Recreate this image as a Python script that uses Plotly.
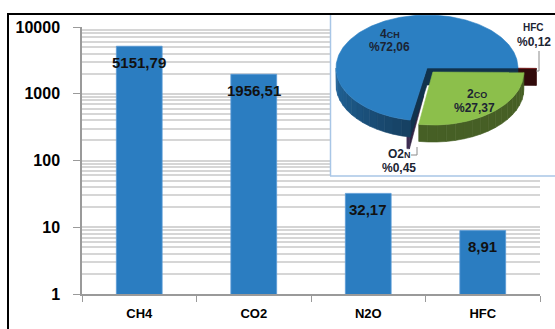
import math
import plotly.graph_objects as go

# ---- data -------------------------------------------------------------
gases = ["CH4", "CO2", "N2O", "HFC"]
emissions = [5151.79, 1956.51, 32.17, 8.91]
y_tick_vals = [1, 10, 100, 1000, 10000]
y_tick_text = ["1", "10", "100", "1000", "10000"]

# inset pie: slices counter-clockwise from the east edge
pie_sequence = ["CH4", "N2O", "CO2", "HFC"]
pie_pull = {"CH4": 0.0, "N2O": 0.22, "CO2": 0.10, "HFC": 0.20}
pie_colors = {"CH4": "#2b7fc2", "N2O": "#7d5ca8", "CO2": "#8cbf4b", "HFC": "#7b1c1c"}
pie_names = {
    "CH4": "4<span style='font-size:9px'>CH</span>",
    "CO2": "2<span style='font-size:9px'>CO</span>",
    "N2O": "O2<span style='font-size:9px'>N</span>",
    "HFC": "<span style='font-size:10px'>HFC</span>",
}
# back-to-front paint order of the 3-D slices
paint_order = ["N2O", "HFC", "CH4", "CO2"]

BAR_COLOR = "#2b7dc1"
W, H = 555, 329


def px(x):
    return x / W


def py(y):
    return 1 - y / H


def fmt(v):
    return f"{v:.2f}".replace(".", ",")


fig = go.Figure()

# ---- bar chart (log scale) -------------------------------------------
fig.add_trace(go.Bar(
    x=gases, y=emissions, width=0.4,
    marker=dict(color=BAR_COLOR, line=dict(color="#5b9bd5", width=0.8)),
    hoverinfo="skip", showlegend=False,
))

annotations = []
for g, v in zip(gases, emissions):
    annotations.append(dict(
        x=g, y=math.log10(v), xref="x", yref="y", text=fmt(v),
        showarrow=False, yshift=-16,
        font=dict(family="Liberation Sans, Arial", size=15, color="#111111", weight="bold"),
    ))

minor_vals = [m * 10 ** e for e in range(4) for m in range(2, 10)]

# ---- inset 3-D pie ----------------------------------------------------
CX, CY, RX, RY, DEPTH = 427.0, 68.0, 91.0, 53.0, 17.0
total = sum(emissions)
share = {g: v / total * 100 for g, v in zip(gases, emissions)}

angles = {}
start = 0.0
for g in pie_sequence:
    span = share[g] * 3.6
    angles[g] = (start, start + span)
    start += span


def rim(theta, ox, oy, drop=0.0):
    t = math.radians(theta)
    return (CX + ox + RX * math.cos(t), CY + oy - RY * math.sin(t) + drop)


def arc(a0, a1, ox, oy, drop=0.0):
    n = max(2, int(abs(a1 - a0)) + 2)
    return [rim(a0 + (a1 - a0) * i / (n - 1), ox, oy, drop) for i in range(n)]


def shade(hexcol, k):
    r, g, b = (int(hexcol[i:i + 2], 16) for i in (1, 3, 5))
    f = 1 - k
    return "#%02x%02x%02x" % (int(r * f), int(g * f), int(b * f))


def poly(points, color):
    xs = [p[0] for p in points] + [points[0][0]]
    ys = [p[1] for p in points] + [points[0][1]]
    return go.Scatter(
        x=xs, y=ys, xaxis="x2", yaxis="y2", mode="lines", fill="toself",
        fillcolor=color, line=dict(color=color, width=0.6),
        hoverinfo="skip", showlegend=False,
    )


for g in paint_order:
    s, e = angles[g]
    mid = math.radians((s + e) / 2)
    ox = pie_pull[g] * RX * math.cos(mid)
    oy = -pie_pull[g] * RY * math.sin(mid)
    top = pie_colors[g]
    c_top = (CX + ox, CY + oy)
    c_bot = (CX + ox, CY + oy + DEPTH)
    face_col = shade(top, 0.6)
    # radial cut faces that turn towards the viewer
    if math.cos(math.radians(s)) > 0:
        fig.add_trace(poly([c_top, rim(s, ox, oy), rim(s, ox, oy, DEPTH), c_bot], face_col))
    if math.cos(math.radians(e)) < 0:
        fig.add_trace(poly([c_top, rim(e, ox, oy), rim(e, ox, oy, DEPTH), c_bot], face_col))
    # outer front wall, shaded by angle
    lo, hi = max(s, 180.0), min(e, 360.0)
    if hi > lo:
        nseg = max(1, int(math.ceil((hi - lo) / 6)))
        for i in range(nseg):
            a = lo + (hi - lo) * i / nseg
            b = lo + (hi - lo) * (i + 1) / nseg
            k = min(0.5, 0.18 + 0.32 * ((a + b) / 2 - 180) / 80)
            pts = arc(a, b, ox, oy) + arc(a, b, ox, oy, DEPTH)[::-1]
            fig.add_trace(poly(pts, shade(top, k)))
    # top face
    fig.add_trace(poly([c_top] + arc(s, e, ox, oy), top))

label_font = dict(family="Liberation Sans, Arial", size=12, color="#1c2433", weight="bold")
pie_label_pos = {
    "CH4": ((390, 34), (389, 47.5)),
    "CO2": ((477, 94), (474, 108)),
    "HFC": ((533, 28), (534, 42)),
    "N2O": ((399, 154), (399, 168.5)),
}
for g, ((nx, ny), (vx, vy)) in pie_label_pos.items():
    annotations.append(dict(x=nx, y=ny, xref="x2", yref="y2", text=pie_names[g],
                            showarrow=False, font=label_font, borderpad=0))
    annotations.append(dict(x=vx, y=vy, xref="x2", yref="y2", text="%" + fmt(share[g]),
                            showarrow=False, font=label_font, borderpad=0))

shapes = [
    # outer frame
    dict(type="line", xref="paper", yref="paper", x0=px(8), x1=px(8), y0=py(13), y1=-0.01,
         line=dict(color="#000000", width=2)),
    dict(type="line", xref="paper", yref="paper", x0=px(7), x1=1.01, y0=py(14), y1=py(14),
         line=dict(color="#000000", width=2)),
    # inset border
    dict(type="line", xref="paper", yref="paper", x0=px(330.5), x1=px(330.5), y0=py(15), y1=py(176),
         line=dict(color="#a8c6e6", width=1.5)),
    dict(type="line", xref="paper", yref="paper", x0=px(330), x1=1.01, y0=py(176), y1=py(176),
         line=dict(color="#a8c6e6", width=1.5)),
    # leader lines
    dict(type="path", xref="x2", yref="y2", path="M 539 51 L 539 71 L 536 71",
         line=dict(color="#8a8a8a", width=1)),
    dict(type="path", xref="x2", yref="y2", path="M 417 147 L 417 155 L 411 155",
         line=dict(color="#8a8a8a", width=1)),
]

axis_font = dict(family="Liberation Sans, Arial", color="#000000", weight="bold")

fig.update_layout(
    width=W, height=H, autosize=False,
    margin=dict(l=0, r=0, t=0, b=0, pad=0),
    paper_bgcolor="#ffffff", plot_bgcolor="#ffffff",
    showlegend=False,
    xaxis=dict(
        domain=[px(82), px(540)], range=[-0.5, 3.5], type="category", automargin=False,
        tickson="boundaries", ticks="outside", ticklen=6, tickcolor="#9a9a9a", tickwidth=1.2,
        showline=True, linecolor="#9a9a9a", linewidth=1.5, showgrid=False,
        tickfont=dict(size=13, **axis_font), ticklabelstandoff=7,
    ),
    yaxis=dict(
        domain=[py(294), py(27)], type="log", range=[0, 4], automargin=False,
        tickvals=y_tick_vals, ticktext=y_tick_text,
        ticks="outside", ticklen=7, tickcolor="#9a9a9a", tickwidth=1.2,
        showline=True, linecolor="#9a9a9a", linewidth=1.5,
        showgrid=True, gridcolor="#d4d4d4", gridwidth=1.8,
        minor=dict(tickvals=minor_vals, showgrid=True, gridcolor="#d6d6d6", gridwidth=1.8, ticks=""),
        tickfont=dict(size=16, **axis_font), ticklabelstandoff=10,
    ),
    xaxis2=dict(domain=[px(330), 1], range=[330, 555], anchor="y2", visible=False, automargin=False),
    yaxis2=dict(domain=[py(176), py(14)], range=[176, 14], anchor="x2", visible=False, automargin=False),
    annotations=annotations,
    shapes=shapes,
)

fig.write_html("out.html", config={"displayModeBar": False})
